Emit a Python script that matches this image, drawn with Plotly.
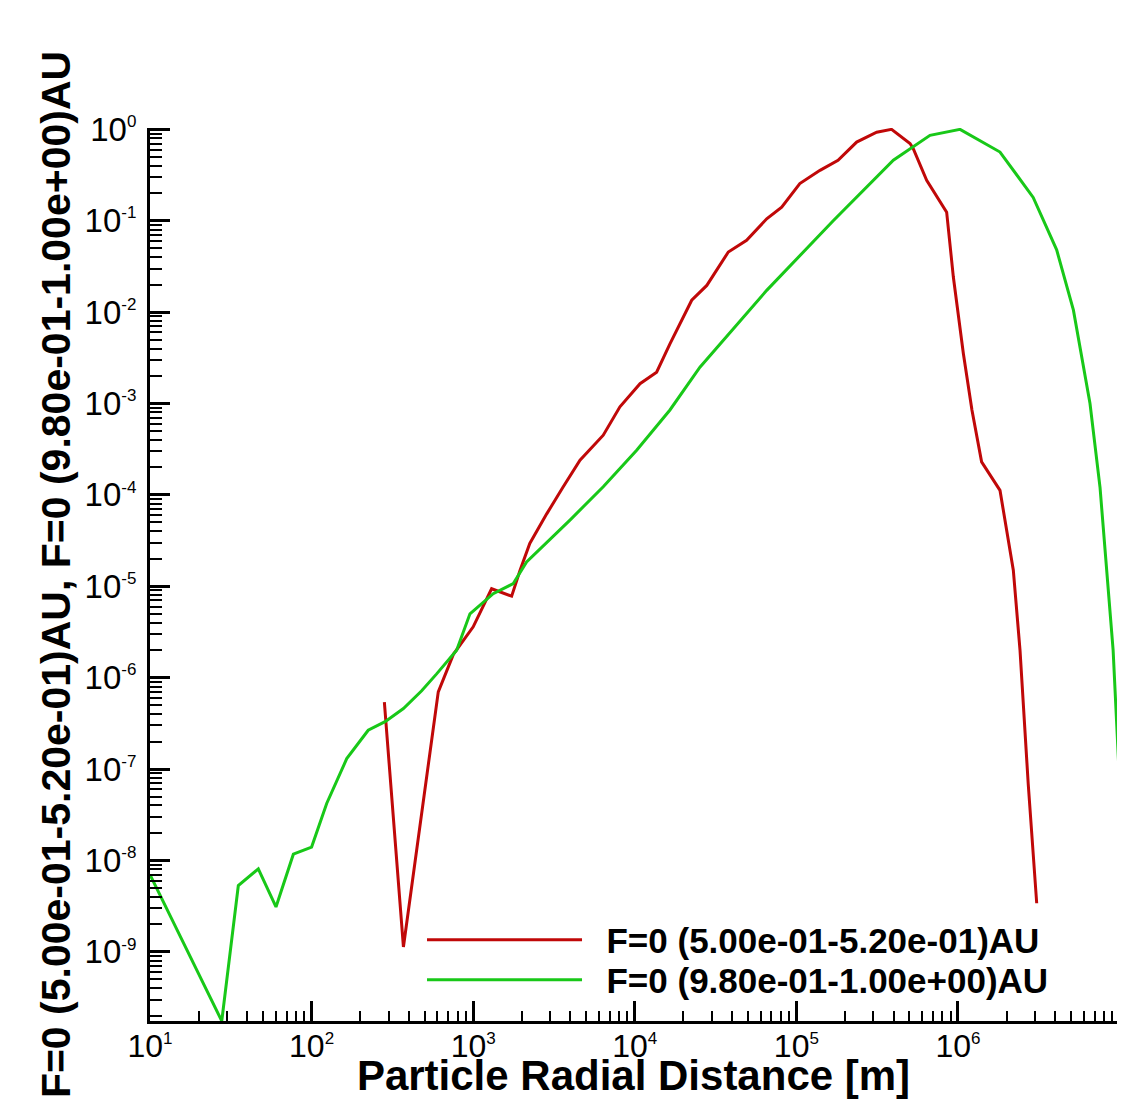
import plotly.graph_objects as go

# ---- data ----
green_r = [10, 27.8, 35.2, 46.8, 60.2, 77.1, 100, 124, 165, 224, 285, 370, 480, 594, 790,
           955, 1330, 1770, 2140, 3970, 6380, 10270, 16500, 25300, 65500, 169000, 398000,
           671000, 1.03e6, 1.82e6, 2.92e6, 4.08e6, 5.18e6, 6.56e6, 7.57e6, 9.12e6, 1.0e7,
           1.08e7, 1.15e7]
green_f = [7.0e-9, 1.75e-10, 5.3e-9, 8.1e-9, 3.1e-9, 1.17e-8, 1.4e-8, 4.2e-8, 1.3e-7, 2.66e-7,
           3.3e-7, 4.6e-7, 7.2e-7, 1.1e-6, 2.0e-6, 5.0e-6, 8.3e-6, 1.07e-5, 1.85e-5, 5.3e-5,
           1.23e-4, 3.08e-4, 8.5e-4, 2.5e-3, 0.0173, 0.1, 0.46, 0.86, 1.0, 0.565, 0.18, 0.048,
           0.0105, 1.0e-3, 1.2e-4, 2.0e-6, 6.9e-8, 1.0e-9, 1.0e-10]

red_r = [282, 370, 608, 754, 1000, 1300, 1730, 1950, 2240, 2850, 3600, 4580, 6380, 8090,
         10770, 13650, 16500, 22500, 27900, 37900, 49200, 65500, 81100, 105000, 140000,
         181000, 236000, 314000, 388000, 505000, 528000, 640000, 851000, 936000, 1.08e6,
         1.22e6, 1.40e6, 1.82e6, 2.2e6, 2.42e6, 2.72e6, 3.07e6]
red_f = [5.4e-7, 1.13e-9, 7.0e-7, 1.8e-6, 3.6e-6, 9.4e-6, 7.8e-6, 1.5e-5, 2.94e-5, 6.2e-5,
         1.22e-4, 2.4e-4, 4.5e-4, 9.2e-4, 1.65e-3, 2.2e-3, 4.5e-3, 0.0135, 0.0196, 0.0455,
         0.061, 0.105, 0.141, 0.255, 0.356, 0.458, 0.726, 0.93, 1.0, 0.70, 0.62, 0.277,
         0.124, 0.0242, 3.5e-3, 8.5e-4, 2.3e-4, 1.12e-4, 1.5e-5, 2.0e-6, 6.9e-8, 3.4e-9]

red_name = "F=0 (5.00e-01-5.20e-01)AU"
green_name = "F=0 (9.80e-01-1.00e+00)AU"
x_title = "Particle Radial Distance [m]"
y_title = "F=0 (5.00e-01-5.20e-01)AU, F=0 (9.80e-01-1.00e+00)AU"

x_exps = [1, 2, 3, 4, 5, 6, 7]
y_exps = [0, -1, -2, -3, -4, -5, -6, -7, -8, -9]

FONT = "Liberation Sans, Arial, Helvetica, sans-serif"
GAP = "\u00a0\u00a0"  # visual gap between legend line and label


def pow_label(e):
    return f"10<sup><span style='font-size:17px'>{e}</span></sup>"


fig = go.Figure()
fig.add_trace(go.Scatter(x=red_r, y=red_f, mode="lines", name=GAP + red_name,
                         line=dict(color="#C00808", width=3), legend="legend"))
fig.add_trace(go.Scatter(x=green_r, y=green_f, mode="lines", name=GAP + green_name,
                         line=dict(color="#18C818", width=3), legend="legend2"))

x_minor = [k * 10.0 ** n for n in range(1, 8) for k in range(2, 10)]
y_minor = [k * 10.0 ** n for n in range(-11, 0) for k in range(2, 10)]

fig.update_xaxes(
    type="log", range=[1, 6.984],
    tickvals=[10.0 ** e for e in x_exps],
    ticktext=[pow_label(e) for e in x_exps],
    ticks="inside", ticklen=20, tickwidth=3, tickcolor="black",
    minor=dict(tickvals=x_minor, ticks="inside", ticklen=10, tickwidth=1.5,
               tickcolor="black", showgrid=False),
    showline=True, linewidth=3, linecolor="black", mirror=False,
    showgrid=False, zeroline=False,
    tickfont=dict(family=FONT, size=32, color="black"),
    ticklabelstandoff=-5,
    title=dict(text=x_title, font=dict(family=FONT, size=42, color="black", weight="bold"),
               standoff=10),
)
fig.update_yaxes(
    type="log", range=[-9.757, 0.015],
    tickvals=[10.0 ** e for e in y_exps],
    ticktext=[pow_label(e) for e in y_exps],
    ticks="inside", ticklen=20, tickwidth=3, tickcolor="black",
    minor=dict(tickvals=y_minor, ticks="inside", ticklen=12, tickwidth=1.5,
               tickcolor="black", showgrid=False),
    showline=True, linewidth=3, linecolor="black", mirror=False,
    showgrid=False, zeroline=False,
    tickfont=dict(family=FONT, size=33, color="black"),
    ticklabelstandoff=4,
    title=dict(text=y_title, font=dict(family=FONT, size=41, color="black", weight="bold"),
               standoff=2),
)

legend_style = dict(xanchor="left", yanchor="middle", bgcolor="rgba(0,0,0,0)",
                    itemwidth=155, borderwidth=0,
                    font=dict(family=FONT, size=35, color="black", weight="bold"))

fig.update_layout(
    width=1109, height=1091,
    margin=dict(l=142, r=0, t=120, b=78, autoexpand=False),
    paper_bgcolor="white", plot_bgcolor="white",
    showlegend=True,
    legend=dict(x=0.2813, y=0.0907, **legend_style),
    legend2=dict(x=0.2813, y=0.0459, **legend_style),
)

fig.write_html("out.html")
